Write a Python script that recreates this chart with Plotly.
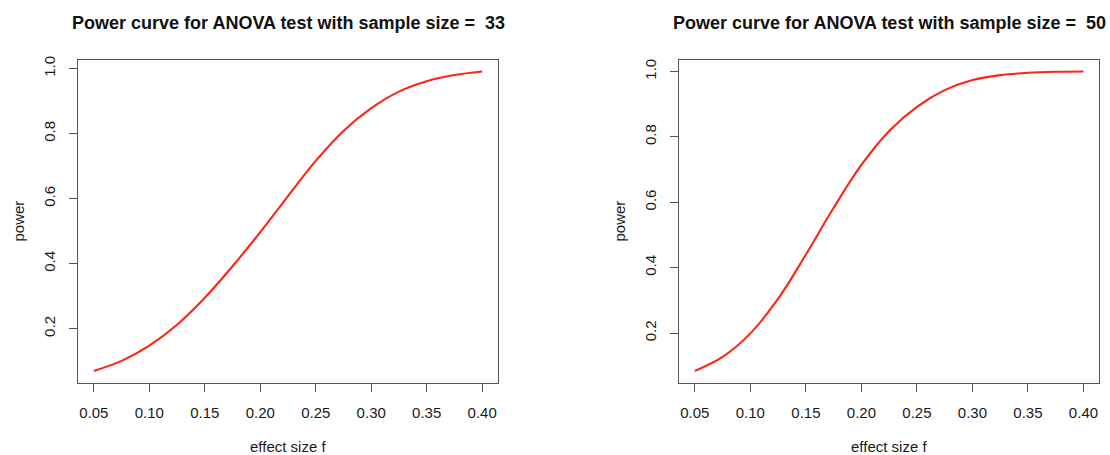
import plotly.graph_objects as go

# power curves (pwr.anova.test style)
EFFECT_SIZE = [0.05, 0.075, 0.10, 0.125, 0.15, 0.175, 0.20, 0.225,
               0.25, 0.275, 0.30, 0.325, 0.35, 0.375, 0.40]
POWER_N33 = [0.070, 0.101, 0.148, 0.212, 0.295, 0.392, 0.497, 0.608,
             0.716, 0.808, 0.878, 0.929, 0.961, 0.980, 0.991]
POWER_N50 = [0.084, 0.127, 0.199, 0.305, 0.440, 0.583, 0.714, 0.818,
             0.892, 0.943, 0.974, 0.989, 0.996, 0.999, 1.000]
SAMPLE_SIZES = [33, 50]

X_TICKS = [0.05, 0.10, 0.15, 0.20, 0.25, 0.30, 0.35, 0.40]
Y_TICKS = [0.2, 0.4, 0.6, 0.8, 1.0]

W, H = 1110, 455
FONT = "Liberation Sans, Arial, Helvetica, sans-serif"
AX_COL = "#555555"

# plot boxes in pixels (left, right) and shared top/bottom
BOXES = [(78.3, 497.7), (679.3, 1099.0)]
TOP, BOTTOM = 56.0, 382.3


def r_range(vals):
    # R's default 4% axis extension
    lo, hi = min(vals), max(vals)
    pad = 0.04 * (hi - lo)
    return [lo - pad, hi + pad]


fig = go.Figure()
series = [POWER_N33, POWER_N50]

for i, (power, n) in enumerate(zip(series, SAMPLE_SIZES)):
    sfx = "" if i == 0 else str(i + 1)
    fig.add_trace(go.Scatter(
        x=EFFECT_SIZE, y=power,
        mode="lines",
        line=dict(color="#ff2414", width=2.1, shape="spline", smoothing=1.0),
        xaxis="x" + sfx, yaxis="y" + sfx,
        showlegend=False, hoverinfo="skip",
    ))

    x0, x1 = BOXES[i]
    common = dict(
        showline=True, mirror=True, linecolor=AX_COL, linewidth=1,
        showgrid=False, zeroline=False,
        ticks="outside", ticklen=8, tickwidth=1, tickcolor=AX_COL,
        tickfont=dict(family=FONT, size=15, color="#1a1a1a"),
        ticklabelstandoff=8,
        fixedrange=True,
    )
    fig.update_layout({
        "xaxis" + sfx: dict(
            common,
            domain=[x0 / W, x1 / W],
            range=r_range(EFFECT_SIZE),
            tickvals=X_TICKS, tickformat=".2f",
            anchor="y" + sfx,
        ),
        "yaxis" + sfx: dict(
            common,
            domain=[1 - BOTTOM / H, 1 - TOP / H],
            range=r_range(power),
            tickvals=Y_TICKS, tickformat=".1f", tickangle=-90,
            anchor="x" + sfx,
        ),
    })

    cx = (x0 + x1) / 2 / W
    fig.add_annotation(
        x=cx, y=1 - 19 / H, xref="paper", yref="paper",
        text=f"<b>Power curve for ANOVA test with sample size =\u00a0\u00a0{n}</b>",
        showarrow=False, xanchor="center", yanchor="middle",
        font=dict(family=FONT, size=18, color="#111111"),
    )
    fig.add_annotation(
        x=cx, y=1 - 446 / H, xref="paper", yref="paper",
        text="effect size f",
        showarrow=False, xanchor="center", yanchor="middle",
        font=dict(family=FONT, size=15, color="#1a1a1a"),
    )
    fig.add_annotation(
        x=(x0 - 60) / W, y=1 - (TOP + BOTTOM) / 2 / H, xref="paper", yref="paper",
        text="power", textangle=-90,
        showarrow=False, xanchor="center", yanchor="middle",
        font=dict(family=FONT, size=15, color="#1a1a1a"),
    )

fig.update_layout(
    width=W, height=H,
    margin=dict(l=0, r=0, t=0, b=0),
    paper_bgcolor="white", plot_bgcolor="white",
    showlegend=False,
)

# drop the default page margin so the figure sits at the window's corner
fig.write_html(
    "out.html",
    config={"displayModeBar": False, "staticPlot": True},
    post_script="document.body.style.margin='0';",
)
